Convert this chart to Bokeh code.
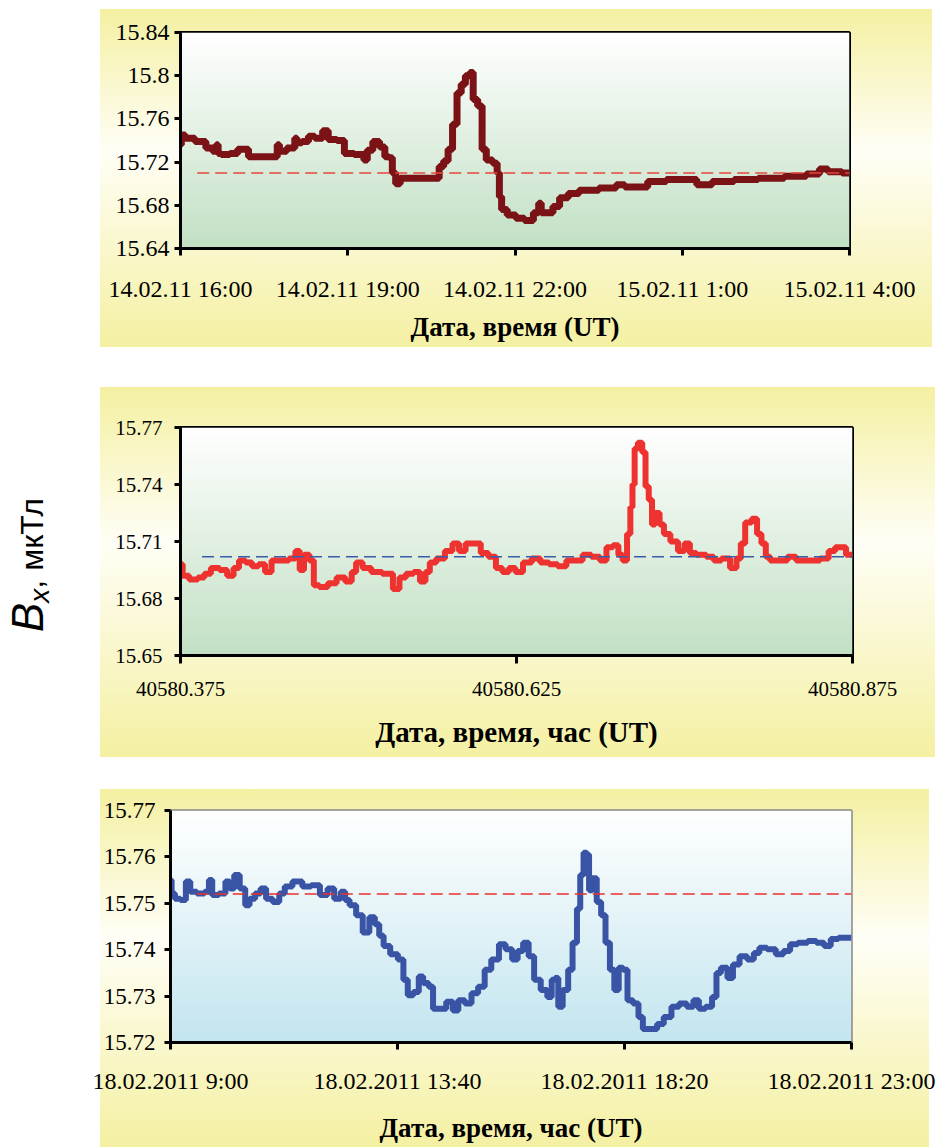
import numpy as np
from bokeh.plotting import figure
from bokeh.models import Range1d, FixedTicker, NumeralTickFormatter, Div, Spacer
from bokeh.layouts import column, row
from bokeh.embed import file_html
from bokeh.resources import INLINE

# ---------------- Panel 1: 14.02.11 16:00 .. 15.02.11 4:00 (hours since 16:00)
p1_hours = [0.00, 0.03, 0.14, 0.38, 0.53, 0.62, 0.66, 0.69, 0.77, 1.00, 1.05, 1.20, 1.24, 1.71, 1.76,
            1.79, 2.02, 2.08, 2.10, 2.26, 2.33, 2.49, 2.61, 2.69, 2.92, 2.96, 3.27, 3.31, 3.39, 3.51,
            3.63, 3.70, 3.78, 3.82, 3.90, 3.98, 4.60, 4.68, 4.76, 4.84, 4.92, 5.00, 5.07, 5.15, 5.23,
            5.27, 5.39, 5.43, 5.54, 5.66, 5.70, 5.74, 5.78, 5.94, 6.09, 6.25, 6.41, 6.44, 6.50, 6.64,
            6.72, 6.88, 7.03, 7.27, 7.74, 7.89, 8.05, 8.32, 8.44, 8.60, 8.83, 9.22, 9.30, 9.77, 10.09,
            10.63, 11.03, 11.42, 11.50, 11.73, 12.00]
p1_bx = [15.736, 15.745, 15.742, 15.739, 15.733, 15.730, 15.736, 15.728, 15.727, 15.728, 15.732, 15.732,
         15.725, 15.725, 15.736, 15.730, 15.733, 15.742, 15.738, 15.739, 15.744, 15.742, 15.749, 15.741,
         15.740, 15.728, 15.727, 15.722, 15.731, 15.739, 15.734, 15.725, 15.724, 15.710, 15.700, 15.705,
         15.705, 15.716, 15.721, 15.732, 15.755, 15.784, 15.792, 15.800, 15.803, 15.778, 15.772, 15.732,
         15.722, 15.719, 15.710, 15.688, 15.676, 15.671, 15.668, 15.666, 15.673, 15.682, 15.673, 15.673,
         15.679, 15.687, 15.691, 15.694, 15.696, 15.699, 15.697, 15.697, 15.702, 15.702, 15.704, 15.704,
         15.699, 15.702, 15.704, 15.705, 15.707, 15.709, 15.7135, 15.711, 15.710]
p1_ref_value = 15.71
p1_ref_from = 0.3
p1_xticks = [0, 3, 6, 9, 12]
p1_xlabels = ["14.02.11 16:00", "14.02.11 19:00", "14.02.11 22:00", "15.02.11 1:00", "15.02.11 4:00"]
p1_yticks = [15.64, 15.68, 15.72, 15.76, 15.80, 15.84]

# ---------------- Panel 2: Excel serial date
p2_day = [40580.3750, 40580.3782, 40580.3847, 40580.3911, 40580.3944, 40580.4008, 40580.4073, 40580.4121,
          40580.4169, 40580.4202, 40580.4266, 40580.4298, 40580.4363, 40580.4395, 40580.4460, 40580.4524,
          40580.4589, 40580.4621, 40580.4653, 40580.4685, 40580.4734, 40580.4750, 40580.4815, 40580.4879,
          40580.4944, 40580.5008, 40580.5040, 40580.5073, 40580.5137, 40580.5202, 40580.5298, 40580.5363,
          40580.5395, 40580.5460, 40580.5508, 40580.5556, 40580.5589, 40580.5621, 40580.5685, 40580.5750,
          40580.5798, 40580.5847, 40580.5895, 40580.5960, 40580.6008, 40580.6073, 40580.6121, 40580.6169,
          40580.6218, 40580.6266, 40580.6331, 40580.6395, 40580.6460, 40580.6524, 40580.6589, 40580.6653,
          40580.6718, 40580.6766, 40580.6847, 40580.6895, 40580.6944, 40580.6992, 40580.7024, 40580.7056,
          40580.7089, 40580.7105, 40580.7121, 40580.7137, 40580.7169, 40580.7202, 40580.7218, 40580.7250,
          40580.7266, 40580.7298, 40580.7331, 40580.7363, 40580.7427, 40580.7476, 40580.7524, 40580.7556,
          40580.7621, 40580.7702, 40580.7734, 40580.7815, 40580.7863, 40580.7911, 40580.7927, 40580.7976,
          40580.8024, 40580.8056, 40580.8089, 40580.8121, 40580.8153, 40580.8234, 40580.8298, 40580.8363,
          40580.8460, 40580.8556, 40580.8589, 40580.8653, 40580.8750]
p2_bx = [15.698, 15.692, 15.690, 15.691, 15.693, 15.696, 15.695, 15.692, 15.696, 15.700, 15.699, 15.697,
         15.698, 15.694, 15.700, 15.700, 15.701, 15.705, 15.695, 15.703, 15.700, 15.687, 15.686, 15.688,
         15.691, 15.689, 15.694, 15.699, 15.696, 15.694, 15.693, 15.685, 15.691, 15.693, 15.694, 15.689,
         15.694, 15.699, 15.701, 15.705, 15.709, 15.705, 15.709, 15.709, 15.704, 15.702, 15.696, 15.694,
         15.696, 15.694, 15.699, 15.701, 15.699, 15.698, 15.697, 15.700, 15.700, 15.703, 15.702, 15.700,
         15.707, 15.708, 15.703, 15.700, 15.714, 15.728, 15.740, 15.759, 15.762, 15.757, 15.739, 15.732,
         15.719, 15.725, 15.719, 15.714, 15.710, 15.705, 15.709, 15.704, 15.703, 15.702, 15.700, 15.701,
         15.696, 15.701, 15.709, 15.720, 15.722, 15.714, 15.709, 15.702, 15.700, 15.700, 15.702, 15.700,
         15.700, 15.701, 15.705, 15.707, 15.703]
p2_ref_value = 15.702
p2_ref_from = 40580.391
p2_xticks = [40580.375, 40580.625, 40580.875]
p2_yticks = [15.65, 15.68, 15.71, 15.74, 15.77]

# ---------------- Panel 3: 18.02.2011 9:00 .. 23:00 (hours since 9:00)
p3_hours = [0.00, 0.045, 0.136, 0.271, 0.361, 0.452, 0.632, 0.768, 0.813, 0.903, 1.084, 1.174, 1.265,
            1.355, 1.491, 1.581, 1.671, 1.807, 1.897, 2.033, 2.168, 2.304, 2.394, 2.620, 2.800, 2.981,
            3.162, 3.297, 3.433, 3.568, 3.613, 3.749, 3.884, 4.020, 4.155, 4.246, 4.336, 4.426, 4.607,
            4.743, 4.833, 4.923, 5.059, 5.149, 5.239, 5.375, 5.420, 5.601, 5.736, 5.872, 5.962, 6.143,
            6.233, 6.414, 6.504, 6.685, 6.820, 6.956, 7.091, 7.182, 7.317, 7.408, 7.543, 7.679, 7.814,
            7.859, 7.949, 7.995, 8.130, 8.220, 8.311, 8.401, 8.446, 8.537, 8.582, 8.627, 8.717, 8.808,
            8.898, 8.988, 9.079, 9.169, 9.259, 9.350, 9.440, 9.576, 9.666, 9.756, 9.937, 10.072, 10.208,
            10.389, 10.524, 10.705, 10.795, 10.930, 11.066, 11.201, 11.247, 11.382, 11.518, 11.608,
            11.789, 11.924, 12.060, 12.150, 12.376, 12.511, 12.692, 12.782, 13.008, 13.189, 13.369,
            13.505, 13.641, 13.821, 14.000]
p3_bx = [15.7550, 15.7521, 15.7510, 15.7507, 15.7547, 15.7525, 15.7521, 15.7525, 15.7550, 15.7518,
         15.7521, 15.7547, 15.7532, 15.7561, 15.7532, 15.7496, 15.7510, 15.7521, 15.7532, 15.7510,
         15.7503, 15.7521, 15.7536, 15.7547, 15.7536, 15.7539, 15.7518, 15.7532, 15.7510, 15.7525,
         15.7507, 15.7496, 15.7474, 15.7437, 15.7470, 15.7455, 15.7430, 15.7408, 15.7390, 15.7379,
         15.7335, 15.7302, 15.7309, 15.7342, 15.7328, 15.7320, 15.7273, 15.7273, 15.7288, 15.7269,
         15.7291, 15.7284, 15.7306, 15.7320, 15.7357, 15.7379, 15.7412, 15.7401, 15.7379, 15.7397,
         15.7415, 15.7386, 15.7335, 15.7313, 15.7298, 15.7335, 15.7339, 15.7277, 15.7313, 15.7357,
         15.7415, 15.7488, 15.7561, 15.7609, 15.7605, 15.7528, 15.7554, 15.7503, 15.7474, 15.7415,
         15.7357, 15.7313, 15.7361, 15.7357, 15.7291, 15.7284, 15.7255, 15.7229, 15.7229, 15.7240,
         15.7255, 15.7277, 15.7284, 15.7277, 15.7291, 15.7273, 15.7277, 15.7298, 15.7350, 15.7361,
         15.7339, 15.7368, 15.7386, 15.7379, 15.7393, 15.7404, 15.7401, 15.7390, 15.7397, 15.7412,
         15.7415, 15.7419, 15.7415, 15.7408, 15.7423, 15.7426, 15.7426]
p3_ref_value = 15.752
p3_ref_from_hours = 0.54
p3_xticks_min = [0, 280, 560, 840]
p3_xlabels = ["18.02.2011 9:00", "18.02.2011 13:40", "18.02.2011 18:20", "18.02.2011 23:00"]
p3_yticks = [15.72, 15.73, 15.74, 15.75, 15.76, 15.77]

SERIF = "Liberation Serif"
YELLOW = "#f4f0a2"
PAGE_BG = "linear-gradient(to bottom, %s 0%%, #fffef6 42%%, %s 100%%)" % (YELLOW, YELLOW)


def vgradient(top_hex, bottom_hex, n=96):
    def rgb(h):
        h = h.lstrip("#")
        return np.array([int(h[i:i + 2], 16) for i in (0, 2, 4)], dtype=float)
    t, b = rgb(top_hex), rgb(bottom_hex)
    img = np.empty((n, 1), dtype=np.uint32)
    view = img.view(dtype=np.uint8).reshape((n, 1, 4))
    for i in range(n):
        f = i / (n - 1)          # row 0 is the bottom
        c = b + (t - b) * f
        view[i, 0, 0:3] = np.round(c).astype(np.uint8)
        view[i, 0, 3] = 255
    return img


def make_fig(width, height, xr, yr, ml, mr, mt, mb, styles, top_img, bot_img):
    p = figure(width=width, height=height, x_range=Range1d(*xr), y_range=Range1d(*yr),
               output_backend="svg", toolbar_location=None,
               min_border_left=ml, min_border_right=mr, min_border_top=mt, min_border_bottom=mb,
               styles=styles)
    p.border_fill_color = None
    p.background_fill_color = None
    p.grid.visible = False
    p.outline_line_color = "black"
    p.outline_line_width = 3
    p.image_rgba(image=[vgradient(top_img, bot_img)], x=xr[0], y=yr[0],
                 dw=xr[1] - xr[0], dh=yr[1] - yr[0])
    for ax in (p.xaxis[0], p.yaxis[0]):
        ax.axis_line_width = 3
        ax.axis_line_color = "black"
        ax.major_tick_line_width = 3
        ax.major_tick_line_color = "black"
        ax.major_tick_in = 0
        ax.minor_tick_line_color = None
        ax.major_label_text_font = SERIF
        ax.major_label_text_color = "black"
        ax.axis_label_text_font = SERIF
        ax.axis_label_text_font_style = "bold"
        ax.axis_label_text_color = "black"
    return p


# ---------- figure 1
f1 = make_fig(832, 338, (0, 12), (15.64, 15.84), 80, 83, 23, 99,
              {"background": PAGE_BG}, "#ffffff", "#c2e0c4")
f1.step(p1_hours, p1_bx, mode="center", line_color="#7a1216", line_width=7)
f1.line([p1_ref_from, p1_xticks[-1]], [p1_ref_value, p1_ref_value],
        line_color="#e8473f", line_width=1.5, line_dash="12 6")
f1.xaxis.ticker = FixedTicker(ticks=p1_xticks)
f1.xaxis.major_label_overrides = {t: s for t, s in zip(p1_xticks, p1_xlabels)}
f1.yaxis.ticker = FixedTicker(ticks=p1_yticks)
f1.yaxis.formatter = NumeralTickFormatter(format="0.[00]")
f1.xaxis.major_tick_out = 7
f1.yaxis.major_tick_out = 6
f1.xaxis.major_label_text_font_size = "24px"
f1.yaxis.major_label_text_font_size = "24px"
f1.xaxis.major_label_standoff = 20
f1.yaxis.major_label_standoff = 5
f1.xaxis.axis_label = "Дата, время (UT)"
f1.xaxis.axis_label_text_font_size = "27px"
f1.xaxis.axis_label_standoff = 7

# ---------- figure 2
f2 = make_fig(835, 370, (p2_xticks[0], p2_xticks[-1]), (15.65, 15.77), 75, 67, 40, 102,
              {"background": PAGE_BG}, "#ffffff", "#c2e0c4")
f2.step(p2_day, p2_bx, mode="center", line_color="#ee3230", line_width=6)
f2.line([p2_ref_from, p2_xticks[-1]], [p2_ref_value, p2_ref_value],
        line_color="#3b5ca8", line_width=1.5, line_dash="12 6")
f2.xaxis.ticker = FixedTicker(ticks=p2_xticks)
f2.xaxis.formatter = NumeralTickFormatter(format="0.000")
f2.yaxis.ticker = FixedTicker(ticks=p2_yticks)
f2.yaxis.formatter = NumeralTickFormatter(format="0.00")
f2.xaxis.major_tick_out = 8
f2.yaxis.major_tick_out = 6
f2.xaxis.major_label_text_font_size = "21px"
f2.yaxis.major_label_text_font_size = "21px"
f2.xaxis.major_label_standoff = 18
f2.yaxis.major_label_standoff = 12
f2.xaxis.axis_label = "Дата, время, час (UT)"
f2.xaxis.axis_label_text_font_size = "29px"
f2.xaxis.axis_label_standoff = 17

# ---------- figure 3 (canvas starts at page left so the first label is not clipped)
f3_styles = {"background-image": PAGE_BG, "background-repeat": "no-repeat",
             "background-position": "100px 0px", "background-size": "829px 100%"}
f3 = make_fig(944, 358, (p3_xticks_min[0], p3_xticks_min[-1]), (15.72, 15.77), 170, 93, 21, 105,
              f3_styles, "#ffffff", "#c3e5ef")
f3.outline_line_color = "#888888"
f3.outline_line_width = 2.5
f3.step([h * 60 for h in p3_hours], p3_bx, mode="center", line_color="#3a54a5", line_width=6)
f3.line([p3_ref_from_hours * 60, p3_xticks_min[-1]], [p3_ref_value, p3_ref_value],
        line_color="#e8322c", line_width=1.5, line_dash="12 6")
f3.xaxis.ticker = FixedTicker(ticks=p3_xticks_min)
f3.xaxis.major_label_overrides = {t: s for t, s in zip(p3_xticks_min, p3_xlabels)}
f3.yaxis.ticker = FixedTicker(ticks=p3_yticks)
f3.yaxis.formatter = NumeralTickFormatter(format="0.00")
f3.xaxis.major_tick_out = 7
f3.yaxis.major_tick_out = 6
f3.xaxis.major_label_text_font_size = "24px"
f3.yaxis.major_label_text_font_size = "23px"
f3.xaxis.major_label_standoff = 18
f3.yaxis.major_label_standoff = 9
f3.xaxis.axis_label = "Дата, время, час (UT)"
f3.xaxis.axis_label_text_font_size = "27px"
f3.xaxis.axis_label_standoff = 16

# ---------- y label
label_html = (
    '<div style="position:relative;width:100px;height:748px;">'
    '<div style="position:absolute;left:6px;top:623px;transform:rotate(-90deg);transform-origin:0 0;'
    'white-space:nowrap;font-family:Arial,\'Liberation Sans\',sans-serif;font-size:32px;line-height:44px;color:#000;">'
    '<i style="font-size:44px;">B</i><i style="font-size:28px;vertical-align:-6px;">x</i>, мкТл'
    '</div></div>'
)
ylab = Div(text=label_html, width=100, height=748, margin=0)

layout = column(
    Spacer(height=9, margin=0),
    row(ylab, column(f1, Spacer(height=40, margin=0), f2)),
    Spacer(height=32, margin=0),
    f3,
)

open("out.html", "w").write(file_html(layout, INLINE))
